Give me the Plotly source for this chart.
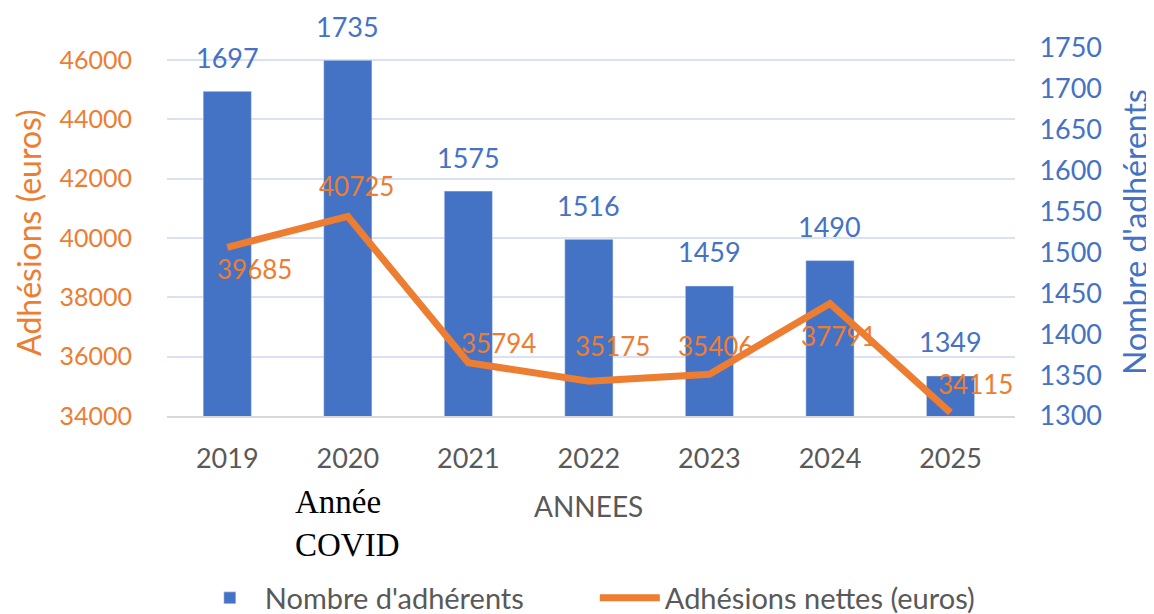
import plotly.graph_objects as go

annees = ["2019", "2020", "2021", "2022", "2023", "2024", "2025"]
nb_adherents = [1697, 1735, 1575, 1516, 1459, 1490, 1349]
adhesions_nettes = [39685, 40725, 35794, 35175, 35406, 37791, 34115]

# decalage des etiquettes de la courbe (x, y en pixels)
decal_x = [27, 9, 30, 24, 6, 9, 25]
decal_y = [-22, 30, 20, 35, 28, -32, 29]

BLEU = "#4472C4"
ORANGE = "#ED7D31"
GRIS = "#595959"
POLICE = "Lato, 'Open Sans', sans-serif"

fig = go.Figure()

fig.add_trace(go.Bar(
    x=annees,
    y=nb_adherents,
    name="Nombre d'adhérents",
    marker_color=BLEU,
    width=0.4,
    yaxis="y",
))

fig.add_trace(go.Scatter(
    x=annees,
    y=adhesions_nettes,
    name="Adhésions nettes (euros)",
    mode="lines",
    line=dict(color=ORANGE, width=7),
    yaxis="y2",
))

# sur un axe "category" les annotations se placent par l'indice de la categorie
annotations = []
for i, n in enumerate(nb_adherents):
    annotations.append(dict(
        x=i, y=n, xref="x", yref="y", text=str(n), showarrow=False,
        yanchor="middle", yshift=34,
        font=dict(family=POLICE, size=27, color=BLEU),
    ))
for i, (v, dx, dy) in enumerate(zip(adhesions_nettes, decal_x, decal_y)):
    annotations.append(dict(
        x=i, y=v, xref="x", yref="y2", text=str(v), showarrow=False,
        yanchor="middle", xshift=dx, yshift=dy,
        font=dict(family=POLICE, size=26, color=ORANGE),
    ))

annotations += [
    dict(x=-0.164, y=0.5, xref="paper", yref="paper", text="Adhésions (euros)",
         textangle=-90, showarrow=False, xanchor="center", yanchor="middle",
         font=dict(family=POLICE, size=32, color=ORANGE)),
    dict(x=1.1403, y=0.5, xref="paper", yref="paper", text="Nombre d'adhérents",
         textangle=-90, showarrow=False, xanchor="center", yanchor="middle",
         font=dict(family=POLICE, size=32, color=BLEU)),
    dict(x=0.4965, y=-0.244, xref="paper", yref="paper", text="ANNEES",
         showarrow=False, xanchor="center", yanchor="middle",
         font=dict(family=POLICE, size=28, color=GRIS)),
    dict(x=annees.index("2020"), y=-0.293, xref="x", yref="paper", text="Année<br>COVID",
         showarrow=False, align="left", xanchor="center", yanchor="middle",
         font=dict(family="'Liberation Serif', serif", size=33, color="black")),
]

fig.update_layout(
    width=1146,
    height=626,
    margin=dict(l=159, r=139, t=40, b=217),
    plot_bgcolor="white",
    paper_bgcolor="white",
    font=dict(family=POLICE),
    bargap=0.6,
    xaxis=dict(
        type="category",
        showline=True, linecolor="#D9D9D9", linewidth=1.5,
        ticks="outside", ticklen=18, tickcolor="rgba(0,0,0,0)",
        tickfont=dict(size=27, color=GRIS),
    ),
    yaxis=dict(
        side="right",
        range=[1300, 1750],
        dtick=50,
        showgrid=False,
        zeroline=False,
        ticks="outside", ticklen=18, tickcolor="rgba(0,0,0,0)",
        tickfont=dict(size=27, color=BLEU),
    ),
    yaxis2=dict(
        overlaying="y",
        side="left",
        range=[34000, 46403],
        tickvals=[34000, 36000, 38000, 40000, 42000, 44000, 46000],
        tickformat="d",
        showgrid=True,
        gridcolor="#D9E1F2",
        gridwidth=2,
        zeroline=False,
        ticks="outside", ticklen=29, tickcolor="rgba(0,0,0,0)",
        tickfont=dict(size=25, color=ORANGE),
    ),
    legend=dict(
        orientation="h",
        x=0.5045, xanchor="center",
        y=-0.4905, yanchor="middle",
        font=dict(size=29, color=GRIS),
        traceorder="normal",
        itemwidth=60,
        entrywidth=325,
        entrywidthmode="pixels",
    ),
    annotations=annotations,
)

fig.write_html("out.html")
